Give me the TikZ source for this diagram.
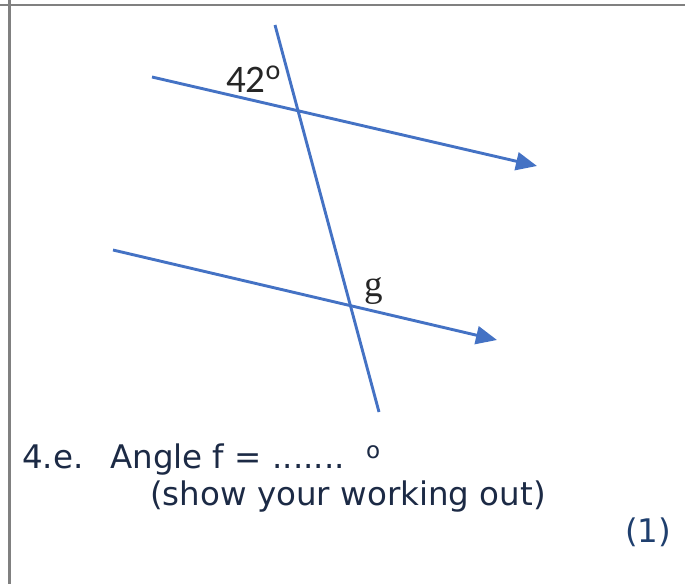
\documentclass[tikz,border=0pt]{standalone}
\usepackage{fontspec}
\setmainfont{DejaVu Sans}
\newfontfamily\labelfont{Carlito}
\newfontfamily\letterfont{Liberation Serif}
\usetikzlibrary{arrows.meta}
\definecolor{LineBlue}{HTML}{4472C4}
\definecolor{TextNavy}{HTML}{1C2A45}
\definecolor{MarkBlue}{HTML}{1F3F6E}
\definecolor{RuleGrey}{HTML}{808080}
\tikzset{
  ray/.style={draw=LineBlue, line width=2.9pt},
  parray/.style={ray, -{Triangle[length=21pt, width=18pt]}},
  rule/.style={draw=RuleGrey, line width=2.4pt},
  qtext/.style={anchor=base west, inner sep=0pt, text=TextNavy,
    font=\fontsize{32.5}{38}\selectfont},
  angtext/.style={anchor=base west, inner sep=0pt, text=black!85},
}

\begin{document}
\begin{tikzpicture}[x=1pt, y=-1pt]
    \useasboundingbox (0,0) rectangle (685,584);
    % table rules
    \draw[rule] (0,5) -- (685,5);
    \draw[rule] (9.5,0) -- (9.5,584);
    % transversal and the two parallel lines
    \coordinate (t1) at (275,25);
    \coordinate (t2) at (379,412);
    \coordinate (a1) at (152,77);
    \coordinate (a2) at (537,166);
    \coordinate (b1) at (113,250);
    \coordinate (b2) at (497,340);
    \draw[ray] (t1) -- (t2);
    \draw[parray] (a1) -- (a2);
    \draw[parray] (b1) -- (b2);
    % angle labels
    \node[angtext, font=\labelfont\fontsize{39}{44}\selectfont] (ang) at (226,92)
      {42\raisebox{13pt}{\fontsize{28}{28}\selectfont o}};
    \node[angtext, font=\letterfont\fontsize{37}{42}\selectfont] (g) at (364,296) {g};
    % question text
    \node[qtext] (num) at (22,468) {4.e.};
    \node[qtext] (ask) at (110,468) {Angle f = .......};
    \node[qtext, font=\fontsize{23}{26}\selectfont] (deg) at (366,458) {o};
    \node[qtext] (work) at (150,505) {(show your working out)};
    \node[qtext, text=MarkBlue] (mark) at (625,542) {(1)};
\end{tikzpicture}
\end{document}
